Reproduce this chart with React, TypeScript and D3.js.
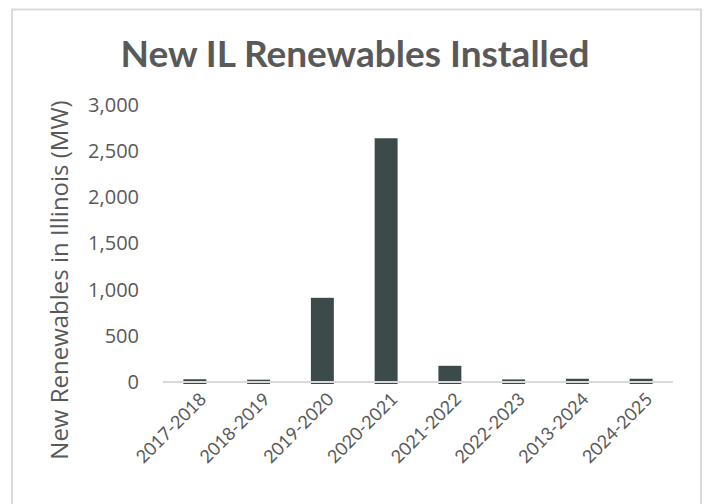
import { useEffect, useRef } from "react";
import * as d3 from "d3";

const categories = [
  "2017-2018",
  "2018-2019",
  "2019-2020",
  "2020-2021",
  "2021-2022",
  "2022-2023",
  "2013-2024",
  "2024-2025",
];
const installedMW = [30, 25, 910, 2635, 175, 28, 35, 35];
const yTicks = [0, 500, 1000, 1500, 2000, 2500, 3000];

export default function App() {
  const svgRef = useRef(null);

  useEffect(() => {
    const width = 706,
      height = 504;
    const margin = { top: 104.5, right: 33, bottom: 122, left: 163 };

    const svg = d3.select(svgRef.current);
    svg.selectAll("*").remove();
    svg.attr("width", width).attr("height", height);

    // chart frame
    svg
      .append("rect")
      .attr("x", 12)
      .attr("y", 9.5)
      .attr("width", 689)
      .attr("height", 520)
      .attr("fill", "#fff")
      .attr("stroke", "#d9d9d9")
      .attr("stroke-width", 2);

    const x = d3
      .scaleBand()
      .domain(categories)
      .range([margin.left, width - margin.right])
      .paddingInner(0.64)
      .paddingOuter(0.32);

    const y = d3
      .scaleLinear()
      .domain([0, 3000])
      .range([height - margin.bottom, margin.top]);

    // title
    svg
      .append("text")
      .attr("x", 355)
      .attr("y", 67)
      .attr("text-anchor", "middle")
      .attr("font-family", "Lato, sans-serif")
      .attr("font-weight", 700)
      .attr("font-size", 37)
      .attr("fill", "#595959")
      .text("New IL Renewables Installed");

    // bars (run 2px below the baseline, axis drawn on top)
    svg
      .append("g")
      .selectAll("rect")
      .data(installedMW)
      .join("rect")
      .attr("x", (d, i) => x(categories[i]))
      .attr("y", (d) => y(d))
      .attr("width", x.bandwidth())
      .attr("height", (d) => y(0) - y(d) + 2)
      .attr("fill", "#3d4a4a");

    // baseline
    svg
      .append("line")
      .attr("x1", margin.left)
      .attr("x2", width - margin.right)
      .attr("y1", y(0))
      .attr("y2", y(0))
      .attr("stroke", "#d9d9d9")
      .attr("stroke-width", 2);

    // y tick labels
    const fmt = d3.format(",");
    svg
      .append("g")
      .selectAll("text")
      .data(yTicks)
      .join("text")
      .attr("x", 139)
      .attr("y", (d) => y(d))
      .attr("dy", "0.35em")
      .attr("text-anchor", "end")
      .attr("font-family", "'Open Sans', sans-serif")
      .attr("font-size", 20)
      .attr("fill", "#595959")
      .text((d) => fmt(d));

    // x tick labels
    svg
      .append("g")
      .selectAll("text")
      .data(categories)
      .join("text")
      .attr(
        "transform",
        (d) => `translate(${x(d) + x.bandwidth() / 2 + 8},${y(0) + 14}) rotate(-45)`
      )
      .attr("text-anchor", "end")
      .attr("dy", "0.35em")
      .attr("font-family", "Lato, sans-serif")
      .attr("font-size", 18)
      .attr("fill", "#595959")
      .text((d) => d);

    // y axis title
    svg
      .append("text")
      .attr("transform", "translate(60,280) rotate(-90)")
      .attr("text-anchor", "middle")
      .attr("dy", "0.35em")
      .attr("font-family", "'Open Sans', sans-serif")
      .attr("font-size", 24)
      .attr("fill", "#595959")
      .text("New Renewables in Illinois (MW)");
  }, []);

  return (
    <div style={{ position: "absolute", left: 0, top: 0 }}>
      <svg ref={svgRef} style={{ display: "block" }}></svg>
    </div>
  );
}
